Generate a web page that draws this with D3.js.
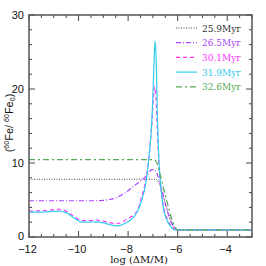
<!DOCTYPE html>
<html>
<head>
<meta charset="utf-8">
<script src="https://cdn.jsdelivr.net/npm/d3@7"></script>
<style>
  body { margin: 0; background: #fff; }
  svg { display: block; }
</style>
</head>
<body>
<div id="chart"></div>
<script>
// log(dM/M) grid points and 60Fe/60Fe0 values for each model age
let x259 = [-12, -6.9, -6.8, -6.7, -6.5, -6.3, -6.15, -6.0, -5.5, -4, -3];
let y259 = [7.8, 7.8, 7.6, 6.8, 4.6, 2.5, 1.4, 0.95, 0.95, 0.95, 0.95];

let x265 = [-12, -9.2, -9.0, -8.7, -8.44, -8.2, -8.0, -7.8, -7.6, -7.4, -7.2, -7.05, -6.95, -6.85, -6.75, -6.6, -6.45, -6.3, -6.15, -6.0, -5.5, -4, -3];
let y265 = [4.9, 4.9, 4.95, 5.1, 5.35, 5.8, 6.25, 6.8, 7.3, 7.85, 8.5, 9.1, 9.1, 8.7, 7.8, 5.9, 3.9, 2.3, 1.3, 0.95, 0.95, 0.95, 0.95];

let x301 = [-12, -11.5, -11, -10.8, -10.5, -10.2, -9.9, -9.6, -9.3, -9.0, -8.7, -8.45, -8.2, -7.9, -7.75, -7.6, -7.45, -7.3, -7.15, -7.03, -6.96, -6.93, -6.88, -6.82, -6.75, -6.65, -6.55, -6.4, -6.25, -6.1, -6.0, -5.5, -4, -3];
let y301 = [3.5, 3.55, 3.7, 3.75, 3.5, 2.8, 2.25, 2.2, 2.3, 2.15, 1.9, 1.8, 2.1, 2.7, 3.0, 3.8, 5.5, 7.5, 11, 16, 19.5, 20.3, 19, 14.5, 9.5, 5.8, 3.8, 2.3, 1.4, 1.0, 0.95, 0.95, 0.95, 0.95];

let x319 = [-12, -11.5, -11, -10.8, -10.5, -10.2, -9.9, -9.6, -9.3, -9.0, -8.7, -8.4, -8.1, -7.9, -7.75, -7.6, -7.45, -7.3, -7.15, -7.03, -6.96, -6.91, -6.86, -6.82, -6.75, -6.67, -6.57, -6.45, -6.3, -6.17, -6.0, -5.5, -4, -3];
let y319 = [3.35, 3.35, 3.45, 3.5, 3.3, 2.6, 2.05, 2.0, 2.05, 1.9, 1.65, 1.5, 1.9, 2.3, 2.8, 3.6, 5.0, 7.0, 11, 16.5, 23, 26.5, 23, 16.5, 10, 6.5, 3.8, 2.4, 1.5, 1.0, 0.95, 0.95, 0.95, 0.95];

let x326 = [-12, -6.95, -6.85, -6.75, -6.6, -6.4, -6.2, -6.05, -5.95, -5.5, -4, -3];
let y326 = [10.45, 10.45, 10.1, 9.0, 7.0, 4.4, 2.1, 1.1, 0.95, 0.95, 0.95, 0.95];

let labels = ["25.9Myr", "26.5Myr", "30.1Myr", "31.9Myr", "32.6Myr"];
let colors = ["#333333", "#aa44ff", "#ff33ff", "#33ccee", "#55aa55"];
let dashes = ["1,1.5", "5,2,1,2", "4,3", null, "6,3,2,3"];
let widths = [0.9, 1.2, 1.2, 1.2, 1.2];

let xMajor = [-12, -10, -8, -6, -4];
let yMajor = [0, 10, 20, 30];

let width = 266, height = 266;
let m = {left: 29, right: 14, top: 15, bottom: 29};

let svg = d3.select('#chart').append('svg')
  .attr('width', width)
  .attr('height', height);

let x = d3.scaleLinear().domain([-12, -3]).range([m.left, width - m.right]);
let y = d3.scaleLinear().domain([0, 30]).range([height - m.bottom, m.top]);

let series = [[x259, y259], [x265, y265], [x301, y301], [x319, y319], [x326, y326]];

let line = d3.line()
  .x(d => x(d[0]))
  .y(d => y(d[1]))
  .curve(d3.curveMonotoneX);

let g = svg.append('g');

series.forEach(function (s, i) {
  let pts = s[0].map((v, j) => [v, s[1][j]]);
  g.append('path')
    .attr('d', line(pts))
    .attr('fill', 'none')
    .attr('stroke', colors[i])
    .attr('stroke-width', widths[i])
    .attr('stroke-dasharray', dashes[i]);
});

// ticks, inward on all four sides
let xMinor = d3.range(-12, -3 + 0.01, 0.5).filter(v => xMajor.indexOf(v) < 0);
let yMinor = d3.range(0, 30.01, 2).filter(v => yMajor.indexOf(v) < 0);
let tickColor = '#444';

function addTicks(vals, len) {
  vals.forEach(v => {
    g.append('line').attr('x1', x(v)).attr('x2', x(v))
      .attr('y1', y(0)).attr('y2', y(0) - len)
      .attr('stroke', tickColor).attr('stroke-width', 1);
    g.append('line').attr('x1', x(v)).attr('x2', x(v))
      .attr('y1', y(30)).attr('y2', y(30) + len)
      .attr('stroke', tickColor).attr('stroke-width', 1);
  });
}
function addYTicks(vals, len) {
  vals.forEach(v => {
    g.append('line').attr('y1', y(v)).attr('y2', y(v))
      .attr('x1', x(-12)).attr('x2', x(-12) + len)
      .attr('stroke', tickColor).attr('stroke-width', 1);
    g.append('line').attr('y1', y(v)).attr('y2', y(v))
      .attr('x1', x(-3)).attr('x2', x(-3) - len)
      .attr('stroke', tickColor).attr('stroke-width', 1);
  });
}
addTicks(xMajor, 6);
addTicks(xMinor, 3);
addYTicks(yMajor, 6);
addYTicks(yMinor, 3);

g.append('rect')
  .attr('x', x(-12)).attr('y', y(30))
  .attr('width', x(-3) - x(-12)).attr('height', y(0) - y(30))
  .attr('fill', 'none')
  .attr('stroke', '#555')
  .attr('stroke-width', 1.5);

let fmt = d3.format('d');
g.selectAll('.xl').data(xMajor).enter().append('text')
  .attr('x', d => x(d) - 1.5)
  .attr('y', height - m.bottom + 16)
  .attr('text-anchor', 'middle')
  .attr('font-family', 'Liberation Sans, Arial, sans-serif')
  .attr('font-size', 11)
  .attr('fill', '#111')
  .text(d => fmt(d));

g.selectAll('.yl').data(yMajor).enter().append('text')
  .attr('x', m.left - 5)
  .attr('y', d => y(d) + (d === 0 ? 3 : 4))
  .attr('text-anchor', 'end')
  .attr('font-family', 'Liberation Sans, Arial, sans-serif')
  .attr('font-size', 11)
  .attr('fill', '#111')
  .text(d => fmt(d));

svg.append('text')
  .attr('x', 139)
  .attr('y', 263)
  .attr('text-anchor', 'middle')
  .attr('font-family', 'DejaVu Serif, serif')
  .attr('font-size', 10)
  .attr('fill', '#111')
  .text('log (ΔM/M)');

let yl = svg.append('text')
  .attr('transform', 'translate(13,' + 123 + ') rotate(-90)')
  .attr('text-anchor', 'middle')
  .attr('font-family', 'Liberation Sans, Arial, sans-serif')
  .attr('font-size', 11)
  .attr('fill', '#111');
yl.append('tspan').text('(');
yl.append('tspan').attr('font-size', 7).attr('dy', -4).text('60');
yl.append('tspan').attr('dy', 4).text('Fe/ ');
yl.append('tspan').attr('font-size', 7).attr('dy', -4).text('60');
yl.append('tspan').attr('dy', 4).text('Fe');
yl.append('tspan').attr('font-size', 7).attr('dy', 2).text('0');
yl.append('tspan').attr('dy', -2).text(')');

// legend
let leg = svg.append('g');
labels.forEach(function (lab, i) {
  let ly = 28 + i * 14.7;
  leg.append('line')
    .attr('x1', 176).attr('x2', 197)
    .attr('y1', ly).attr('y2', ly)
    .attr('stroke', colors[i])
    .attr('stroke-width', widths[i])
    .attr('stroke-dasharray', dashes[i]);
  leg.append('text')
    .attr('x', 202).attr('y', ly + 3.5)
    .attr('font-family', 'DejaVu Serif, serif')
    .attr('font-size', 9)
    .attr('fill', colors[i])
    .text(lab);
});
</script>
</body>
</html>
